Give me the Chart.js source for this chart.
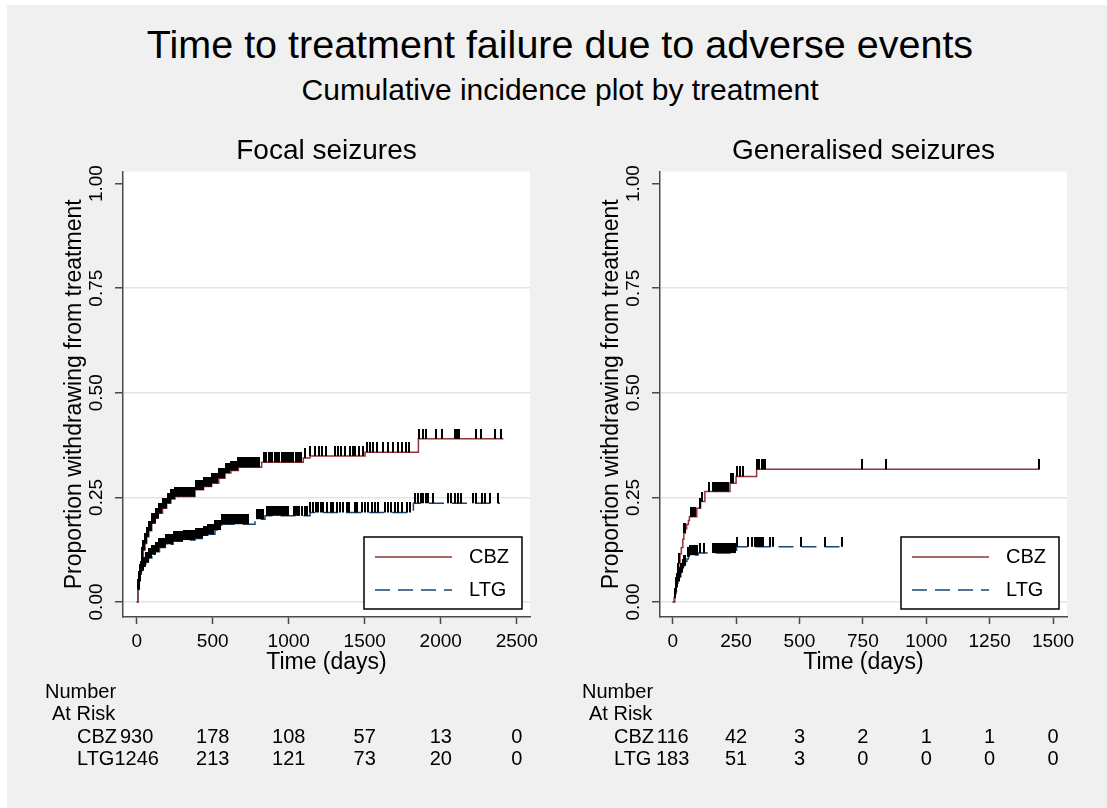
<!DOCTYPE html>
<html>
<head>
<meta charset="utf-8">
<script src="https://cdn.jsdelivr.net/npm/chart.js@4.4.1/dist/chart.umd.min.js"></script>
<style>
  html, body { margin: 0; padding: 0; }
  body { width: 1107px; height: 808px; background: #f0f0f0; position: relative; overflow: hidden;
         font-family: "Liberation Sans", Arial, sans-serif; color: #000; }
  .strip-top { position: absolute; left: 0; top: 0; width: 1107px; height: 5px; background: #fff; }
  .strip-left { position: absolute; left: 0; top: 0; width: 7px; height: 808px; background: #fff; }
  #title { position: absolute; left: 0; width: 1120px; top: 25px; text-align: center; font-size: 39.5px; line-height: 39px; white-space: nowrap; }
  #subtitle { position: absolute; left: 0; width: 1120px; top: 75px; text-align: center; font-size: 30px; line-height: 30px; white-space: nowrap; }
  .panel { position: absolute; top: 120px; }
</style>
</head>
<body>
<div class="strip-top"></div>
<div class="strip-left"></div>
<div id="title">Time to treatment failure due to adverse events</div>
<div id="subtitle">Cumulative incidence plot by treatment</div>
<div class="panel" style="left:0px"><canvas id="focalChart" width="553" height="680"></canvas></div>
<div class="panel" style="left:553px"><canvas id="genChart" width="554" height="680"></canvas></div>

<script>
// ---- data ----
const groups = ["CBZ", "LTG"];
const yTicks = [0, 0.25, 0.5, 0.75, 1];

// Focal seizures: step points (days, proportion)
const focalCbzTime = [0, 8, 15, 22, 30, 37, 44, 55, 66, 80, 99, 120, 142, 170, 197, 225, 252, 384, 440, 493, 540, 581, 620, 669, 822, 1096, 1140, 1502, 1853, 2412];
const focalCbzProp = [0, 0.03, 0.05, 0.069, 0.09, 0.108, 0.124, 0.14, 0.156, 0.17, 0.188, 0.2, 0.212, 0.224, 0.236, 0.246, 0.252, 0.268, 0.276, 0.284, 0.296, 0.308, 0.314, 0.322, 0.334, 0.344, 0.349, 0.358, 0.39, 0.39];
const focalLtgTime = [0, 8, 15, 22, 30, 44, 60, 77, 100, 120, 150, 186, 240, 300, 384, 440, 471, 515, 559, 778, 844, 1140, 1820, 2390];
const focalLtgProp = [0, 0.03, 0.05, 0.066, 0.075, 0.084, 0.095, 0.105, 0.113, 0.12, 0.13, 0.138, 0.145, 0.148, 0.152, 0.158, 0.162, 0.172, 0.186, 0.198, 0.206, 0.214, 0.236, 0.236];

// Focal seizures: censoring times
const focalCbzCensor = [10, 16, 21, 27, 33, 38, 44, 50, 57, 63, 70, 76, 83, 90, 96, 103, 110, 118, 125, 133, 140, 148, 156, 163, 171, 179, 187, 195, 203, 211, 219, 228, 236, 244, 252, 261, 270, 278, 287, 296, 305, 314, 323, 332, 341, 350, 360, 369, 378, 388, 397, 407, 416, 426, 436, 446, 456, 466, 476, 487, 497, 508, 519, 530, 541, 552, 563, 575, 586, 598, 609, 621, 633, 645, 657, 669, 680, 692, 704, 716, 728, 740, 752, 764, 776, 790, 805, 835, 848, 868, 878, 890, 912, 922, 935, 956, 966, 975, 985, 995, 1005, 1015, 1025, 1045, 1058, 1070, 1083, 1109, 1142, 1170, 1197, 1219, 1245, 1304, 1326, 1341, 1370, 1403, 1420, 1438, 1464, 1486, 1512, 1534, 1556, 1582, 1621, 1654, 1687, 1720, 1748, 1770, 1788, 1858, 1884, 1902, 1972, 2005, 2092, 2108, 2121, 2230, 2263, 2360, 2399];
const focalLtgCensor = [12, 18, 24, 30, 36, 42, 49, 55, 62, 68, 75, 82, 89, 96, 103, 111, 118, 126, 134, 142, 150, 158, 166, 174, 183, 191, 200, 208, 217, 226, 235, 244, 253, 262, 271, 280, 290, 299, 309, 318, 328, 338, 348, 358, 368, 378, 388, 398, 409, 419, 430, 440, 451, 462, 472, 483, 494, 505, 516, 528, 539, 550, 562, 574, 586, 598, 610, 622, 634, 646, 659, 671, 684, 696, 709, 722, 735, 792, 805, 818, 830, 858, 870, 884, 896, 912, 924, 936, 948, 960, 972, 985, 998, 1034, 1046, 1058, 1070, 1085, 1107, 1122, 1140, 1162, 1179, 1194, 1210, 1227, 1249, 1275, 1293, 1315, 1337, 1359, 1381, 1398, 1435, 1446, 1479, 1501, 1523, 1545, 1567, 1589, 1632, 1654, 1676, 1698, 1720, 1742, 1775, 1797, 1830, 1851, 1867, 1884, 1902, 1917, 1950, 2049, 2070, 2092, 2114, 2136, 2213, 2235, 2268, 2290, 2322, 2377];

// Generalised seizures: step points
const genCbzTime = [0, 8, 14, 20, 24, 29, 34, 40, 44, 50, 55, 62, 66, 95, 110, 127, 226, 250, 331, 1446];
const genCbzProp = [0, 0.02, 0.045, 0.07, 0.093, 0.115, 0.13, 0.15, 0.165, 0.175, 0.185, 0.195, 0.204, 0.224, 0.24, 0.264, 0.284, 0.3, 0.317, 0.317];
const genLtgTime = [0, 6, 10, 15, 20, 26, 32, 38, 44, 50, 56, 62, 70, 100, 252, 673];
const genLtgProp = [0, 0.01, 0.025, 0.035, 0.05, 0.06, 0.07, 0.08, 0.088, 0.097, 0.103, 0.108, 0.112, 0.117, 0.132, 0.132];

// Generalised seizures: censoring times
const genCbzCensor = [16, 20, 24, 45, 49, 71, 76, 80, 89, 108, 116, 142, 160, 166, 171, 176, 181, 189, 197, 208, 213, 218, 229, 237, 255, 266, 276, 332, 336, 341, 352, 360, 365, 746, 842, 1446];
const genLtgCensor = [9, 12, 15, 18, 21, 24, 27, 30, 33, 36, 40, 44, 49, 62, 66, 70, 74, 78, 83, 88, 94, 108, 125, 160, 165, 170, 175, 180, 185, 190, 195, 200, 205, 210, 215, 220, 225, 230, 235, 240, 246, 255, 298, 312, 325, 330, 335, 340, 344, 351, 358, 384, 394, 505, 600, 667];

// Number at risk
const focalRiskTimes = [0, 500, 1000, 1500, 2000, 2500];
const focalRiskCbz = [930, 178, 108, 57, 13, 0];
const focalRiskLtg = [1246, 213, 121, 73, 20, 0];
const genRiskTimes = [0, 250, 500, 750, 1000, 1250, 1500];
const genRiskCbz = [116, 42, 3, 2, 1, 1, 0];
const genRiskLtg = [183, 51, 3, 0, 0, 0, 0];

// ---- drawing ----
const FONT = '"Liberation Sans", Arial, sans-serif';
Chart.defaults.font.family = FONT;
Chart.defaults.color = "#000";

const CBZ_COLOR = "rgb(144,53,59)";
const LTG_COLOR = "rgb(26,71,111)";
const AXIS_COLOR = "#4a4a4a";

// small vertical bar used as the censoring mark (sits on top of the curve)
const tickMark = document.createElement("canvas");
tickMark.width = 2;
tickMark.height = 20;
(function () {
    const c = tickMark.getContext("2d");
    c.fillStyle = "#000";
    c.fillRect(0, 0, 2, 10);
})();

function stepAt(times, props, t) {
    let v = props[0];
    for (let i = 0; i < times.length; i++) {
        if (times[i] <= t) v = props[i];
    }
    return v;
}

const plotBackground = {
    id: "plotBackground",
    beforeDraw(chart) {
        const { ctx, chartArea: a } = chart;
        ctx.save();
        ctx.fillStyle = "#fff";
        ctx.fillRect(a.left, a.top, a.right - a.left, a.bottom - a.top);
        ctx.restore();
    }
};

const boxLegend = {
    id: "boxLegend",
    afterDatasetsDraw(chart) {
        const { ctx, chartArea: a } = chart;
        const w = 158, h = 72;
        const bx = a.right - 8 - w, by = a.bottom - 8 - h;
        ctx.save();
        ctx.fillStyle = "#fff";
        ctx.fillRect(bx, by, w, h);
        ctx.strokeStyle = "#000";
        ctx.lineWidth = 1.5;
        ctx.strokeRect(bx, by, w, h);
        const curves = chart.data.datasets.filter(d => d.isCurve);
        curves.forEach((d, i) => {
            const y = by + 20 + i * 33;
            ctx.strokeStyle = d.borderColor;
            ctx.lineWidth = d.borderWidth;
            ctx.setLineDash(d.borderDash || []);
            ctx.beginPath();
            ctx.moveTo(bx + 11, y);
            ctx.lineTo(bx + 88, y);
            ctx.stroke();
            ctx.setLineDash([]);
            ctx.fillStyle = "#000";
            ctx.font = "20px " + FONT;
            ctx.textAlign = "left";
            ctx.textBaseline = "middle";
            ctx.fillText(d.label, bx + 105, y);
        });
        ctx.restore();
    }
};

const riskTable = {
    id: "riskTable",
    afterDraw(chart, args, opts) {
        if (!opts.times) return;
        const { ctx, chartArea: a } = chart;
        const xs = chart.scales.x;
        ctx.save();
        ctx.fillStyle = "#000";
        ctx.font = "20px " + FONT;
        ctx.textBaseline = "middle";
        ctx.textAlign = "left";
        ctx.fillText("Number", a.left - 78, a.bottom + 75);
        ctx.fillText("At Risk", a.left - 71, a.bottom + 97);
        opts.rows.forEach((row, r) => {
            const y = a.bottom + 120.5 + r * 22;
            ctx.textAlign = "left";
            ctx.fillText(groups[r], a.left - 46, y);
            ctx.textAlign = "center";
            opts.times.forEach((t, i) => {
                ctx.fillText(String(row[i]), xs.getPixelForValue(t), y);
            });
        });
        ctx.restore();
    }
};

function makePanel(canvasId, p) {
    const curve = (times, props) => times.map((t, i) => ({ x: t, y: props[i] }));
    const marks = (cens, times, props) => cens.map(t => ({ x: t, y: stepAt(times, props, t) }));
    return new Chart(document.getElementById(canvasId), {
        type: "line",
        data: {
            datasets: [
                { label: groups[0], isCurve: true, data: curve(p.cbzTime, p.cbzProp), borderColor: CBZ_COLOR, borderWidth: 1.5, stepped: true, pointRadius: 0, fill: false, order: 2 },
                { label: groups[1], isCurve: true, data: curve(p.ltgTime, p.ltgProp), borderColor: LTG_COLOR, borderWidth: 1.5, borderDash: [15, 8], stepped: true, pointRadius: 0, fill: false, order: 2 },
                { label: "censor CBZ", data: marks(p.cbzCensor, p.cbzTime, p.cbzProp), showLine: false, pointStyle: tickMark, pointRadius: 4, order: 1 },
                { label: "censor LTG", data: marks(p.ltgCensor, p.ltgTime, p.ltgProp), showLine: false, pointStyle: tickMark, pointRadius: 4, order: 1 }
            ]
        },
        options: {
            responsive: false,
            animation: false,
            events: [],
            layout: { padding: { left: p.padLeft, right: p.padRight, top: 0, bottom: 124 } },
            plugins: {
                legend: { display: false },
                tooltip: { enabled: false },
                title: { display: true, text: p.title, fullSize: false, font: { size: 28, weight: "normal" }, color: "#000", padding: { top: 14, bottom: 4 } },
                riskTable: { times: p.riskTimes, rows: [p.riskCbz, p.riskLtg] }
            },
            scales: {
                x: {
                    type: "linear",
                    min: p.xMin,
                    max: p.xMax,
                    afterBuildTicks: s => { s.ticks = p.xTicks.map(v => ({ value: v })); },
                    afterFit: s => { s.height = 59; },
                    ticks: { callback: v => String(v), font: { size: 19 }, color: "#000", padding: 6, maxRotation: 0, autoSkip: false },
                    grid: { drawOnChartArea: false, drawTicks: true, tickLength: 7, tickColor: AXIS_COLOR, tickWidth: 1.5 },
                    border: { color: AXIS_COLOR, width: 1.5 },
                    title: { display: true, text: "Time (days)", font: { size: 23 }, color: "#000", padding: 0 }
                },
                y: {
                    min: -0.0359,
                    max: 1.0287,
                    afterBuildTicks: s => { s.ticks = yTicks.map(v => ({ value: v })); },
                    afterFit: s => { s.width = 62; },
                    ticks: { callback: v => Number(v).toFixed(2), minRotation: 90, maxRotation: 90, crossAlign: "center", padding: 0, font: { size: 19 }, color: "#000", autoSkip: false },
                    grid: {
                        color: c => (c.tick && c.tick.value === 1) ? "rgba(0,0,0,0)" : "#e4e4e4",
                        lineWidth: 1.5, tickLength: 8, tickColor: AXIS_COLOR, tickWidth: 1.5
                    },
                    border: { color: AXIS_COLOR, width: 1.5 },
                    title: { display: true, text: "Proportion withdrawing from treatment", font: { size: 23 }, color: "#000", padding: 0 }
                }
            }
        },
        plugins: [plotBackground, boxLegend, riskTable]
    });
}

makePanel("focalChart", {
    title: "Focal seizures",
    cbzTime: focalCbzTime, cbzProp: focalCbzProp, ltgTime: focalLtgTime, ltgProp: focalLtgProp,
    cbzCensor: focalCbzCensor, ltgCensor: focalLtgCensor,
    xMin: -90, xMax: 2587, xTicks: focalRiskTimes,
    riskTimes: focalRiskTimes, riskCbz: focalRiskCbz, riskLtg: focalRiskLtg,
    padLeft: 61, padRight: 23
});

makePanel("genChart", {
    title: "Generalised seizures",
    cbzTime: genCbzTime, cbzProp: genCbzProp, ltgTime: genLtgTime, ltgProp: genLtgProp,
    cbzCensor: genCbzCensor, ltgCensor: genLtgCensor,
    xMin: -50, xMax: 1555, xTicks: genRiskTimes,
    riskTimes: genRiskTimes, riskCbz: genRiskCbz, riskLtg: genRiskLtg,
    padLeft: 45, padRight: 40
});
</script>
</body>
</html>
